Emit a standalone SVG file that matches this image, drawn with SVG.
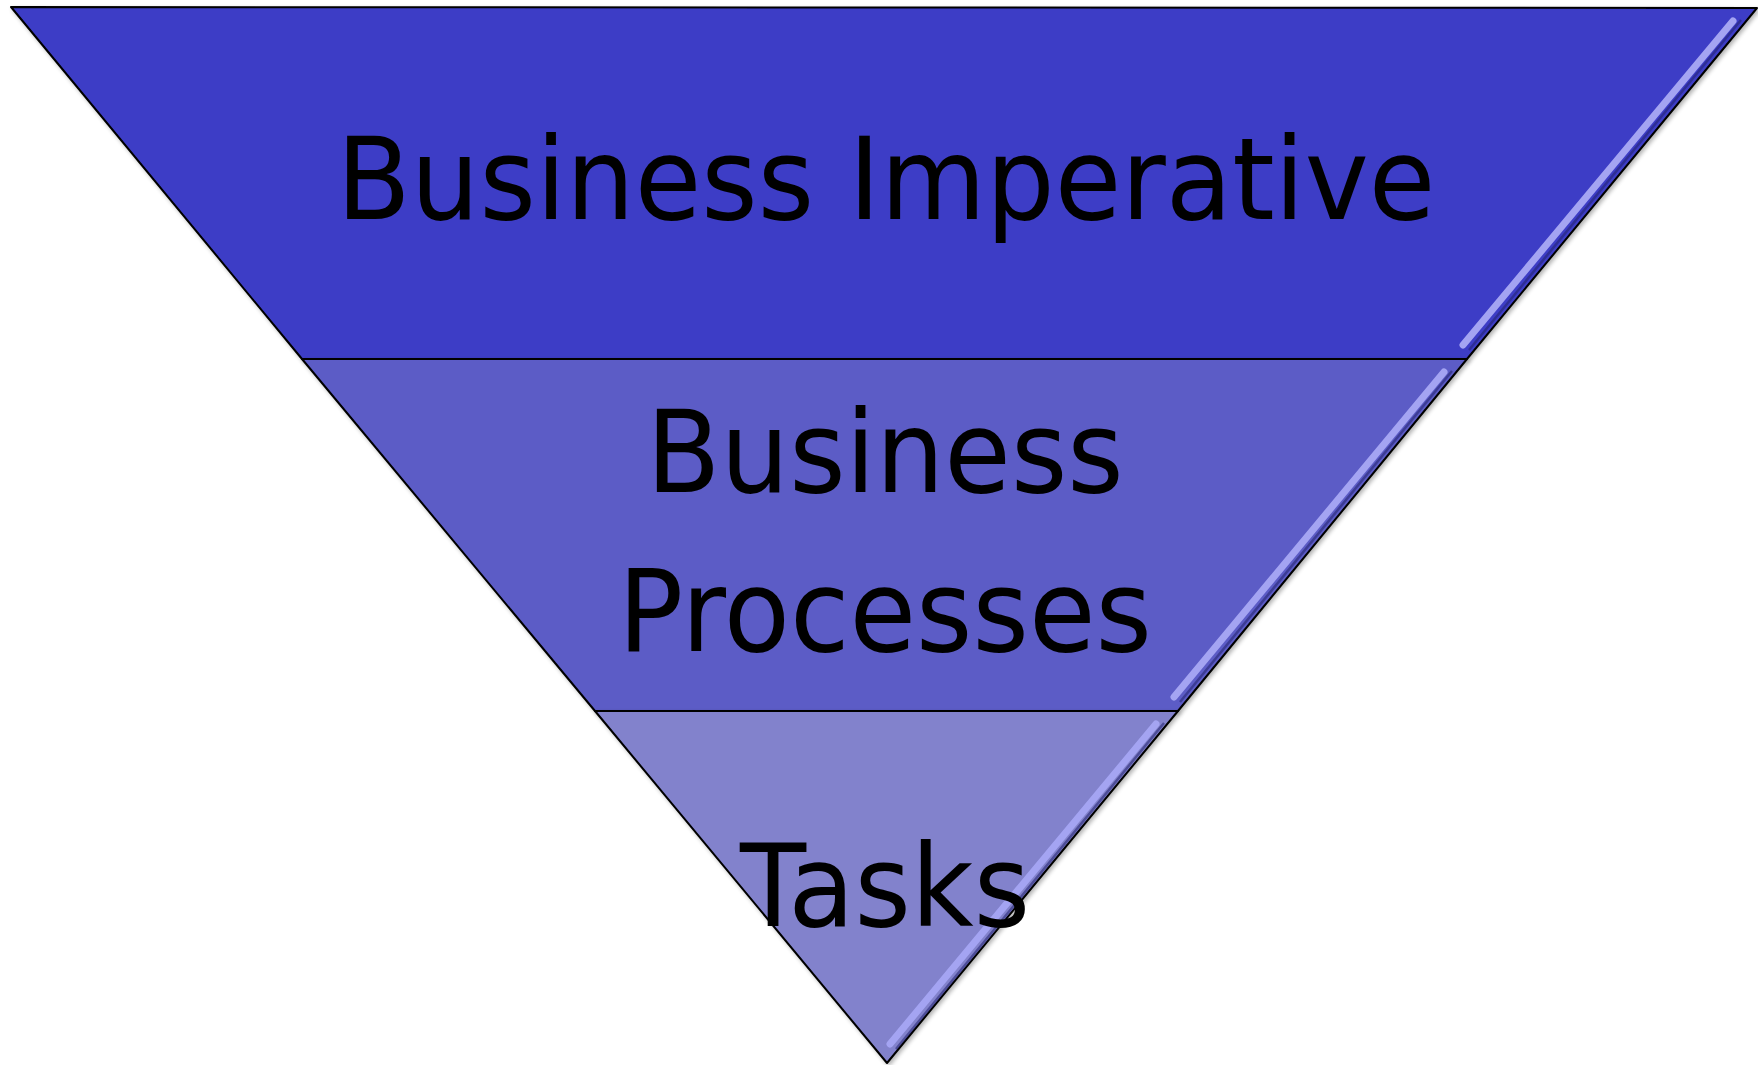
<svg xmlns="http://www.w3.org/2000/svg" width="1758" height="1065" viewBox="0 0 1758 1065">
<style>
.band{stroke:#000;stroke-width:2;stroke-linejoin:round}
.hl{fill:none;stroke:#a4a4f2;stroke-width:7;stroke-linecap:round}
.hd{fill:none;stroke:#23236e;stroke-width:2.5;opacity:0.55}
.lbl{font-family:"DejaVu Sans",sans-serif;font-size:114px;fill:#000;text-anchor:middle}
</style>
<defs>
<filter id="ts" x="-5%" y="-5%" width="110%" height="120%">
<feGaussianBlur in="SourceAlpha" stdDeviation="2"/>
<feOffset dx="1" dy="3" result="b"/>
<feComponentTransfer><feFuncA type="linear" slope="0.3"/></feComponentTransfer>
<feMerge><feMergeNode/><feMergeNode in="SourceGraphic"/></feMerge>
</filter>
<filter id="sh" x="-5%" y="-5%" width="110%" height="110%">
<feGaussianBlur in="SourceAlpha" stdDeviation="2"/>
<feOffset dx="2" dy="2"/>
<feComponentTransfer><feFuncA type="linear" slope="0.3"/></feComponentTransfer>
<feMerge><feMergeNode/><feMergeNode in="SourceGraphic"/></feMerge>
</filter>
</defs>
<g id="band-top">
<polygon class="band" fill="#3e3ec6" points="11,7 1757,8 1467,359 302,359" filter="url(#sh)"/>
<path class="hl" d="M1463,345 L1733,21"/>
<path class="hd" d="M1469,350 L1741,20"/>
<text class="lbl" transform="translate(886,219) scale(0.95,1)">Business Imperative</text>
</g>
<g id="band-middle">
<polygon class="band" fill="#5b5bc6" points="302,359 1467,359 1178,711 595,711" filter="url(#sh)"/>
<path class="hl" d="M1174,697 L1444,372"/>
<path class="hd" d="M1180,702 L1452,371"/>
<text class="lbl" transform="translate(885,492) scale(0.95,1)">Business</text>
<text class="lbl" transform="translate(885,651) scale(0.95,1)">Processes</text>
</g>
<g id="band-bottom">
<polygon class="band" fill="#8282cc" points="595,711 1178,711 887,1063" filter="url(#sh)"/>
<path class="hl" d="M890,1044 L1156,724"/>
<path class="hd" d="M896,1049 L1164,723"/>
<text class="lbl" transform="translate(885,926) scale(0.95,1)">Tasks</text>
</g>
<g id="connectors"/>
</svg>
